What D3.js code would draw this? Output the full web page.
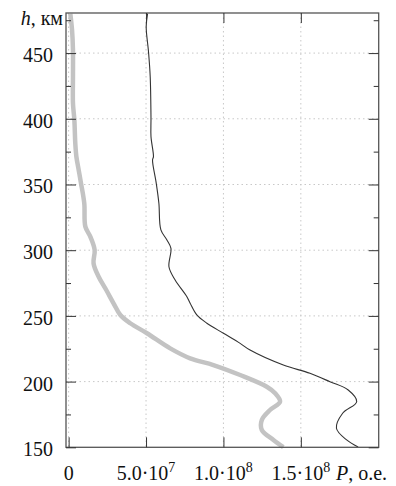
<!doctype html>
<html>
<head>
<meta charset="utf-8">
<style>
    body { margin: 0; background: white; }
    text { font-family: "Liberation Serif", "DejaVu Serif", serif; fill: #111; }
    .grid line { stroke: #c8c8c8; stroke-width: 1px; stroke-dasharray: 1.5,3; }
</style>
<script src="https://d3js.org/d3.v7.min.js"></script>
</head>
<body>
<script>
    // heights, km
    var heights = [480, 470, 451, 432, 400.6, 386.4, 371.2, 368.6, 350.9, 335.7, 315.4, 307.8, 301.4, 287.4,
        277.3, 264.6, 259.6, 250.7, 244.4, 236.8, 229.1, 224, 212.6, 206.3, 199.9, 193.6, 184.7, 175.9,
        164.5, 155.6, 150.2];
    // black thin curve, P in units of 10^7
    var blackP = [5.1, 5.01, 5.16, 5.27, 5.32, 5.32, 5.48, 5.42, 5.66, 5.83, 5.96, 6.35, 6.61, 6.48,
        6.88, 7.64, 7.85, 8.28, 8.93, 10.0, 11.08, 11.72, 13.87, 15.59, 16.88, 18.06, 18.61, 17.7,
        17.3, 17.96, 18.7];

    // gray thick curve
    var grayHeights = [480, 467.6, 452.3, 432, 411.8, 399.1, 381.4, 371.2, 361, 350.9, 335.7, 317.9, 310.3,
        300.2, 290, 279.8, 269.7, 259.6, 250.7, 244.4, 236.8, 225.3, 217.7, 212.6, 205, 196.1, 191.1,
        184.7, 178.4, 170.8, 163.2, 155.6, 150.2];
    var grayP = [0.11, 0.22, 0.28, 0.28, 0.28, 0.37, 0.43, 0.5, 0.65, 0.8, 1.01, 1.08, 1.4,
        1.68, 1.61, 1.94, 2.43, 2.9, 3.34, 3.98, 5.06, 6.56, 7.85, 9.35, 11.08, 12.8, 13.34,
        13.66, 13.01, 12.48, 12.48, 13.23, 13.87];

    var yMajor = [150, 200, 250, 300, 350, 400, 450];
    var yMinor = [175, 225, 275, 325, 375, 425, 475];
    var xTicks = [0, 5, 10, 15];          // x 10^7
    var xMant = ["0", "5.0", "1.0", "1.5"];
    var xExp = [null, "7", "8", "8"];

    var W = 396, H = 486;
    var pLeft = 66, pTop = 13, pRight = 378.7, pBottom = 447.3;

    var svg = d3.select("body").append("svg")
        .attr("width", W)
        .attr("height", H);

    var x = d3.scaleLinear().domain([-0.17, 20.03]).range([pLeft, pRight]);
    var y = d3.scaleLinear().domain([150, 480.5]).range([pBottom, pTop]);

    // grid
    var grid = svg.append("g").attr("class", "grid");
    grid.selectAll(".gy").data(yMajor.slice(1))
        .enter().append("line")
        .attr("x1", pLeft).attr("x2", pRight)
        .attr("y1", d => y(d)).attr("y2", d => y(d));
    grid.selectAll(".gx").data(xTicks)
        .enter().append("line")
        .attr("x1", d => x(d)).attr("x2", d => x(d))
        .attr("y1", pTop).attr("y2", pBottom);

    // curves
    var line = d3.line().curve(d3.curveCatmullRom.alpha(0.5));

    svg.append("path")
        .attr("d", line(grayHeights.map((h, i) => [x(grayP[i]), y(h)])))
        .attr("fill", "none")
        .attr("stroke", "#c3c3c3")
        .attr("stroke-width", 4.5)
        .attr("stroke-linejoin", "round");

    svg.append("path")
        .attr("d", line(heights.map((h, i) => [x(blackP[i]), y(h)])))
        .attr("fill", "none")
        .attr("stroke", "#333")
        .attr("stroke-width", 1.1);

    // frame
    svg.append("rect")
        .attr("x", pLeft).attr("y", pTop)
        .attr("width", pRight - pLeft).attr("height", pBottom - pTop)
        .attr("fill", "none")
        .attr("stroke", "#555")
        .attr("stroke-width", 1.3);

    // axes with inward ticks
    var yAxisL = svg.append("g").attr("transform", "translate(" + pLeft + ",0)")
        .call(d3.axisLeft(y).tickValues(yMajor).tickSize(-10).tickPadding(13));
    svg.append("g").attr("transform", "translate(" + pLeft + ",0)")
        .call(d3.axisLeft(y).tickValues(yMinor).tickSize(-5).tickFormat(""));
    svg.append("g").attr("transform", "translate(" + pRight + ",0)")
        .call(d3.axisRight(y).tickValues(yMajor).tickSize(-10).tickFormat(""));
    svg.append("g").attr("transform", "translate(" + pRight + ",0)")
        .call(d3.axisRight(y).tickValues(yMinor).tickSize(-5).tickFormat(""));
    svg.append("g").attr("transform", "translate(0," + pBottom + ")")
        .call(d3.axisBottom(x).tickValues(xTicks).tickSize(-10).tickFormat(""));
    svg.append("g").attr("transform", "translate(0," + pTop + ")")
        .call(d3.axisTop(x).tickValues(xTicks.slice(1)).tickSize(-10).tickFormat(""));

    svg.selectAll(".domain").remove();
    svg.selectAll(".tick line").attr("stroke", "#333");

    yAxisL.selectAll("text")
        .attr("font-size", "20px")
        .attr("font-family", "Liberation Serif")
        .attr("fill", "#111")
        .attr("dy", "0.42em");

    // x tick labels with powers of ten
    var xl = svg.append("g");
    xTicks.forEach(function(v, i) {
        var t = xl.append("text")
            .attr("x", x(v))
            .attr("y", 480)
            .attr("text-anchor", "middle")
            .attr("font-size", "20px");
        if (xExp[i]) {
            t.append("tspan").text(xMant[i] + "\u00b710");
            t.append("tspan").attr("dy", -8.5).attr("font-size", "14px").text(xExp[i]);
        } else {
            t.text(xMant[i]);
        }
    });

    // axis titles
    var xt = svg.append("text")
        .attr("x", 336).attr("y", 480)
        .attr("font-size", "20px");
    xt.append("tspan").attr("font-style", "italic").text("P");
    xt.append("tspan").text(", о.е.");

    var yt = svg.append("text")
        .attr("x", 63).attr("y", 25)
        .attr("text-anchor", "end")
        .attr("font-size", "20px");
    yt.append("tspan").attr("font-style", "italic").text("h");
    yt.append("tspan").text(", км");
</script>
</body>
</html>
